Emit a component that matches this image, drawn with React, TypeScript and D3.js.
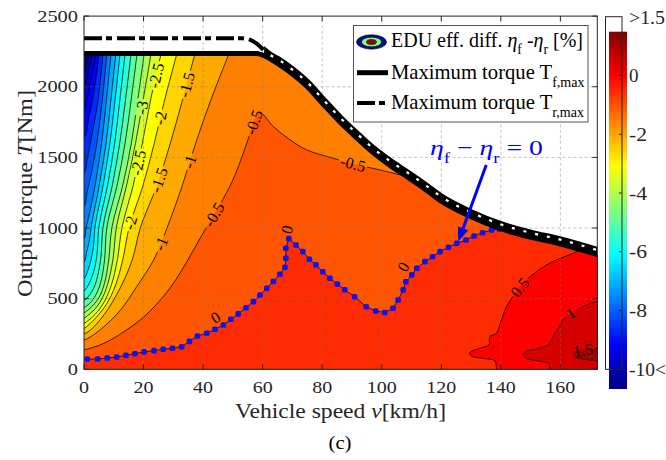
import { useEffect, useRef } from 'react';
import * as d3 from 'd3';

const W = 666;
const H = 460;
const SERIF = '"Liberation Serif", serif';

const speedTicks = [0, 20, 40, 60, 80, 100, 120, 140, 160];
const torqueTicks = [0, 500, 1000, 1500, 2000, 2500];
const colorTicks = [0, -2, -4, -6, -8];

// maximum torque curves [km/h], [Nm]
const fMaxSpeed = [0, 58, 61, 65, 70, 75, 80, 86, 92, 97, 103, 108, 115, 120, 130, 140, 150, 160, 172.5];
const fMaxTorque = [2235, 2235, 2215, 2165, 2090, 2000, 1885, 1750, 1630, 1535, 1440, 1370, 1268, 1190, 1080, 995, 935, 887, 812];
const rMaxSpeed = [0, 53, 56, 58, 60, 62, 65, 70, 75, 80, 86, 92, 97, 103, 108, 115, 120, 130, 140, 150, 160, 172.5];
const rMaxTorque = [2343, 2343, 2330, 2305, 2268, 2232, 2196, 2121, 2031, 1916, 1781, 1661, 1566, 1471, 1401, 1299, 1221, 1111, 1026, 966, 918, 843];

// iso-lines of eta_f - eta_r [%], points [speed, torque]
const leftLevels = [-9.5, -9, -8.5, -8, -7.5, -7, -6.5, -6, -5.5, -5, -4.5, -4, -3.5, -3, -2.5, -2, -1.5, -1];
const leftLines = [
  [[2.0, 2300], [1.7, 2235], [0.6, 2150], [0, 2110], [-2, 2095]],
  [[3.0, 2300], [2.7, 2235], [1.3, 2100], [0, 2000], [-2, 1985]],
  [[4.3, 2300], [4.0, 2235], [2.3, 2050], [0.8, 1900], [0, 1830], [-2, 1815]],
  [[5.3, 2300], [5.0, 2235], [3.6, 2000], [1.8, 1800], [0, 1640], [-2, 1625]],
  [[6.7, 2300], [6.4, 2235], [4.7, 1900], [3.0, 1700], [1.2, 1500], [0, 1390], [-2, 1375]],
  [[8.0, 2300], [7.7, 2235], [6.1, 1900], [4.3, 1600], [2.6, 1400], [1.0, 1250], [0, 1150], [-2, 1135]],
  [[9.4, 2300], [9.1, 2235], [7.5, 1900], [5.9, 1600], [3.7, 1300], [1.8, 1100], [0.7, 1000], [0, 920], [-2, 905]],
  [[11.0, 2300], [10.7, 2235], [9.0, 1900], [7.4, 1600], [5.1, 1300], [2.4, 1007], [1.9, 920], [1.0, 840], [0, 760], [-2, 745]],
  [[12.4, 2300], [12.1, 2235], [10.4, 1900], [8.7, 1600], [6.4, 1300], [3.7, 1007], [3.2, 870], [2.3, 770], [1.3, 700], [0, 640], [-2, 625]],
  [[14.1, 2300], [13.8, 2235], [12.0, 1900], [10.3, 1600], [7.9, 1300], [5.0, 1007], [4.4, 820], [3.5, 710], [2.4, 640], [1.3, 590], [0, 555], [-2, 545]],
  [[16.1, 2300], [15.8, 2235], [13.9, 1900], [12.0, 1600], [9.5, 1300], [6.4, 1007], [5.7, 800], [4.7, 670], [3.4, 580], [2.0, 530], [0.8, 500], [0, 488], [-2, 480]],
  [[18.1, 2300], [17.8, 2235], [15.8, 1900], [13.8, 1600], [11.1, 1300], [7.7, 1007], [6.9, 774], [5.8, 630], [4.3, 540], [2.5, 480], [1.0, 450], [0, 437], [-2, 430]],
  [[20.5, 2300], [20.2, 2235], [18.0, 1900], [15.9, 1600], [13.0, 1300], [9.4, 1007], [8.3, 774], [6.9, 610], [5.1, 510], [2.9, 450], [1.1, 415], [0, 400], [-2, 393]],
  [[22.9, 2300], [22.5, 2235], [19.8, 1900], [17.3, 1600], [14.3, 1300], [10.9, 1007], [9.7, 774], [7.9, 600], [5.8, 490], [3.4, 420], [1.2, 380], [0, 362], [-2, 355]],
  [[26.6, 2300], [25.9, 2235], [22.3, 1900], [19.6, 1600], [16.5, 1300], [12.8, 1007], [11.2, 774], [9.1, 590], [6.6, 470], [3.8, 390], [1.4, 345], [0, 325], [-2, 318]],
  [[32.0, 2300], [31.2, 2235], [27.0, 1900], [23.6, 1600], [19.8, 1300], [15.2, 1007], [13.0, 774], [10.5, 590], [7.5, 460], [4.2, 370], [1.6, 315], [0, 290], [-2, 283]],
  [[38.2, 2300], [37.3, 2235], [33.0, 1900], [29.0, 1600], [24.5, 1300], [19.0, 1007], [16.2, 774], [12.5, 590], [8.5, 440], [5.0, 340], [2.0, 275], [0, 250], [-2, 244]],
  [[49.9, 2300], [48.7, 2235], [42.5, 1900], [37.5, 1600], [33.0, 1300], [28.0, 1007], [23.4, 774], [17.7, 585], [12.3, 420], [6.7, 302], [2.3, 231], [0, 207], [-2, 203]],
];
const lineM05 = [[113.5, 1335], [108.4, 1364], [99.4, 1411], [90.4, 1454], [83.7, 1494], [74.8, 1553], [69.2, 1624], [63.6, 1718], [58.8, 1822], [57.0, 1745], [55.3, 1640], [53.0, 1500], [49.8, 1330], [45.5, 1160], [41.0, 1000], [37.2, 860], [34.5, 760], [30.8, 633], [26.6, 514], [20.2, 373], [13.4, 266], [6.7, 184], [0, 137], [-2, 133]];
const zeroLine = [[1.1, 73], [4.6, 73], [7.8, 80], [11.0, 87], [14.1, 99], [17.1, 110], [20.2, 123], [23.5, 132], [26.6, 142], [29.7, 149], [32.8, 160], [35.4, 198], [38.1, 236], [41.2, 255], [44.0, 283], [46.8, 314], [49.3, 354], [51.8, 392], [54.4, 436], [56.9, 479], [59.1, 526], [61.4, 574], [63.6, 621], [65.8, 673], [67.5, 722], [67.8, 786], [67.8, 857], [68.8, 925], [71.2, 880], [73.5, 833], [75.7, 779], [77.9, 739], [80.2, 691], [82.6, 644], [85.1, 603], [87.6, 562], [90.9, 514], [94.8, 443], [98.0, 413], [101.0, 401], [103.8, 432], [105.5, 491], [107.2, 562], [108.1, 620], [110.1, 668], [111.8, 715], [114.5, 762], [117.1, 797], [119.6, 833], [122.4, 864], [125.2, 892], [128.3, 915], [131.0, 944], [133.9, 967], [136.9, 987], [139.5, 994]];
const line05 = [[167.5, 880], [165.9, 840], [156.4, 751], [148.6, 632], [141.9, 443], [140.2, 349], [138.5, 255], [136.3, 231], [136.0, 172], [132.9, 149], [129.6, 118], [130.1, 94], [134.0, 78], [138.0, 61], [138.5, 20], [138.5, -50]];
const line10 = [[175, 470], [172.1, 479], [162.0, 373], [159.5, 300], [157.5, 231], [155.9, 172], [147.5, 113], [148.6, 78], [155.9, 42], [156.4, 10], [156.4, -50]];
const line15 = [[176, 150], [172.4, 149], [164.3, 113], [164.9, 89], [172.4, 61], [176, 60]];

// [text, level, speed, torque, fixed angle or null]
const contourLabels: [string, number, number, number, number | null][] = [
  ['-2.5', -2.5, 21.6, 2092, null],
  ['-1.5', -1.5, 31.9, 2028, null],
  ['-3', -3, 14.4, 1872, null],
  ['-2', -2, 21.8, 1801, null],
  ['-1', -1, 33.3, 1482, null],
  ['-2.5', -2.5, 13.1, 1482, null],
  ['-1.5', -1.5, 22.5, 1362, null],
  ['-2', -2, 12.4, 1058, null],
  ['-1', -1, 22.8, 916, null],
  ['-0.5', -0.5, 41, 1127, null],
  ['-0.5', -0.5, 54.1, 1773, null],
  ['-0.5', -0.5, 90.4, 1447, null],
  ['0', 0, 44.2, 367, -32],
  ['0', 0, 68.2, 990, -75],
  ['0', 0, 107.2, 725, -60],
  ['0.5', 0.5, 144.1, 619, null],
  ['1', 1, 162.6, 420, null],
  ['1.5', 1.5, 167, 208, null],
];

const arrowFrom = [135.1, 1446];
const arrowTo = [125.7, 904];

type Part = { t: string; i?: boolean; sub?: boolean };

function addText(parent: any, parts: Part[], o: any) {
  const size = o.size;
  const el = parent.append('text')
    .attr('font-family', SERIF)
    .attr('font-size', size)
    .attr('fill', o.fill || '#262626')
    .attr('text-anchor', o.anchor || 'start');
  if (o.rotate) el.attr('transform', `translate(${o.x},${o.y}) rotate(${o.rotate})`);
  else el.attr('x', o.x).attr('y', o.y);
  let down = false;
  parts.forEach((p) => {
    const ts = el.append('tspan').text(p.t);
    if (p.i) ts.attr('font-style', 'italic');
    if (p.sub) {
      ts.attr('font-size', size * 0.68);
      if (!down) { ts.attr('dy', size * 0.36); down = true; }
    } else if (down) {
      ts.attr('dy', -size * 0.36);
      down = false;
    }
  });
  if (o.width) el.attr('textLength', o.width).attr('lengthAdjust', 'spacingAndGlyphs');
  return el;
}

function snapToPath(node: SVGPathElement, tx: number, ty: number) {
  const len = node.getTotalLength();
  let best = 0;
  let bestD = Infinity;
  for (let s = 0; s <= len; s += 1) {
    const p = node.getPointAtLength(s);
    const d = (p.x - tx) ** 2 + (p.y - ty) ** 2;
    if (d < bestD) { bestD = d; best = s; }
  }
  const a = node.getPointAtLength(Math.max(0, best - 5));
  const b = node.getPointAtLength(Math.min(len, best + 5));
  let ang = (Math.atan2(b.y - a.y, b.x - a.x) * 180) / Math.PI;
  if (ang > 90) ang -= 180;
  if (ang < -90) ang += 180;
  const p = node.getPointAtLength(best);
  return { x: p.x, y: p.y, ang };
}

export default function App() {
  const svgRef = useRef<SVGSVGElement>(null);

  useEffect(() => {
    const svg = d3.select(svgRef.current);
    svg.selectAll('*').remove();

    const x = d3.scaleLinear().domain([0, 172.4]).range([84, 597.3]);
    const y = d3.scaleLinear().domain([0, 2500]).range([369.3, 16.1]);
    const jet = d3.scaleLinear<string>()
      .domain([-10, -8.5, -5.5, -2.5, 0.5, 2])
      .range(['#000080', '#0000ff', '#00ffff', '#ffff00', '#ff0000', '#800000'])
      .clamp(true);

    const x0 = x(0), x1 = x(172.4), y0 = y(0), y1 = y(2500);

    svg.append('rect').attr('width', W).attr('height', H).attr('fill', '#fff');

    const defs = svg.append('defs');
    const fPts = fMaxSpeed.map((v, i) => [v, fMaxTorque[i]]);
    const rPts = rMaxSpeed.map((v, i) => [v, rMaxTorque[i]]);
    const envArea = d3.area<number[]>()
      .x((d) => x(d[0]))
      .y0(y0)
      .y1((d) => y(d[1]))
      .curve(d3.curveMonotoneX);
    defs.append('clipPath').attr('id', 'env').append('path').attr('d', envArea(fPts));
    defs.append('clipPath').attr('id', 'plotc').append('rect')
      .attr('x', x0).attr('y', y1).attr('width', x1 - x0).attr('height', y0 - y1);
    defs.append('clipPath').attr('id', 'decl').append('rect')
      .attr('x', x(60.5)).attr('y', y1).attr('width', x1 - x(60.5)).attr('height', y0 - y1);
    const mask = defs.append('mask').attr('id', 'lblmask')
      .attr('maskUnits', 'userSpaceOnUse').attr('x', 0).attr('y', 0).attr('width', W).attr('height', H);
    mask.append('rect').attr('width', W).attr('height', H).attr('fill', '#fff');

    const smooth = d3.line<number[]>().x((d) => x(d[0])).y((d) => y(d[1])).curve(d3.curveCatmullRom.alpha(0.5));
    const straight = d3.line<number[]>().x((d) => x(d[0])).y((d) => y(d[1]));
    const tail = (pts: number[][]) => pts.map((p) => `L${x(p[0])},${y(p[1])}`).join('') + 'Z';

    const zeroExt = [[-2, 72], ...zeroLine, [142.5, 1050]];

    const regions: { level: number; pts: number[][]; close: number[][]; lin?: boolean }[] = [];
    leftLevels.forEach((lv, i) => {
      const pts = leftLines[i];
      const f = pts[0];
      const l = pts[pts.length - 1];
      regions.push({ level: lv, pts, close: [[-5, l[1]], [-5, -100], [200, -100], [200, 2600], [f[0], 2600]] });
    });
    regions.push({ level: -0.5, pts: lineM05, close: [[-5, 133], [-5, -100], [200, -100], [200, 1335]] });
    regions.push({ level: 0, pts: zeroExt, close: [[200, 1050], [200, -100], [-5, -100], [-5, 72]], lin: true });
    regions.push({ level: 0.5, pts: line05, close: [[200, -50], [200, 880]] });
    regions.push({ level: 1, pts: line10, close: [[200, -50], [200, 470]] });
    regions.push({ level: 1.5, pts: line15, close: [] });

    // filled contour bands
    const cg = svg.append('g').attr('clip-path', 'url(#env)');
    cg.append('rect').attr('x', x0).attr('y', y1).attr('width', x1 - x0).attr('height', y0 - y1).attr('fill', jet(-10));
    regions.forEach((r) => {
      const d = (r.lin ? straight(r.pts) : smooth(r.pts)) + tail(r.close);
      cg.append('path').attr('d', d).attr('fill', jet(r.level)).attr('stroke', jet(r.level)).attr('stroke-width', 0.3);
    });

    // contour lines
    const lg = cg.append('g').attr('mask', 'url(#lblmask)');
    const pathByLevel = new Map<number, SVGPathElement>();
    regions.forEach((r) => {
      const p = lg.append('path')
        .attr('d', r.lin ? straight(r.pts) : smooth(r.pts))
        .attr('fill', 'none')
        .attr('stroke', '#000')
        .attr('stroke-width', 0.75);
      pathByLevel.set(r.level, p.node() as SVGPathElement);
    });

    // grid
    const grid = svg.append('g').attr('stroke', '#7a7a7a').attr('stroke-opacity', 0.55)
      .attr('stroke-width', 0.8).attr('stroke-dasharray', '3,2.5');
    speedTicks.filter((v) => v > 0).forEach((v) => {
      grid.append('line').attr('x1', x(v)).attr('x2', x(v)).attr('y1', y0).attr('y2', y1);
    });
    torqueTicks.filter((t) => t > 0 && t < 2500).forEach((t) => {
      grid.append('line').attr('x1', x0).attr('x2', x1).attr('y1', y(t)).attr('y2', y(t));
    });

    // contour labels
    const labG = svg.append('g');
    contourLabels.forEach(([text, lv, v, T, fixed]) => {
      let px = x(v);
      let py = y(T);
      let ang = fixed ?? 0;
      if (fixed === null) {
        const s = snapToPath(pathByLevel.get(lv) as SVGPathElement, px, py);
        px = s.x; py = s.y; ang = s.ang;
      }
      const t = labG.append('text')
        .attr('transform', `translate(${px},${py}) rotate(${ang})`)
        .attr('text-anchor', 'middle')
        .attr('dy', '0.34em')
        .attr('font-family', SERIF)
        .attr('font-size', 16)
        .attr('fill', '#000')
        .text(text);
      const w = (t.node() as SVGTextElement).getBBox().width + 4;
      mask.append('rect')
        .attr('x', -w / 2).attr('y', -6).attr('width', w).attr('height', 12)
        .attr('fill', '#000')
        .attr('transform', `translate(${px},${py}) rotate(${ang})`);
    });

    // zero line markers
    const mg = svg.append('g');
    zeroLine.forEach((p) => {
      mg.append('rect')
        .attr('x', x(p[0]) - 2.8).attr('y', y(p[1]) - 2.8)
        .attr('width', 5.6).attr('height', 5.6).attr('rx', 1.6)
        .attr('fill', '#0a14f5');
    });

    // maximum torque curves
    const tline = d3.line<number[]>().x((d) => x(d[0])).y((d) => y(d[1])).curve(d3.curveMonotoneX);
    const tg = svg.append('g').attr('clip-path', 'url(#plotc)');
    tg.append('path').attr('d', tline(fPts)).attr('fill', 'none').attr('stroke', '#000').attr('stroke-width', 5);
    tg.append('path').attr('d', tline(rPts)).attr('fill', 'none').attr('stroke', '#000').attr('stroke-width', 4)
      .attr('stroke-dasharray', '18,4,6,5');
    const dg = svg.append('g').attr('clip-path', 'url(#decl)');
    dg.append('path').attr('d', tline(rPts)).attr('fill', 'none').attr('stroke', '#000').attr('stroke-width', 6.5);
    dg.append('path').attr('d', tline(rPts)).attr('fill', 'none').attr('stroke', '#fff').attr('stroke-width', 2.2)
      .attr('stroke-dasharray', '3,9');

    // axes box and ticks
    const ax = svg.append('g').attr('stroke', '#262626').attr('stroke-width', 1).attr('fill', 'none');
    ax.append('rect').attr('x', x0).attr('y', y1).attr('width', x1 - x0).attr('height', y0 - y1);
    speedTicks.forEach((v) => {
      ax.append('line').attr('x1', x(v)).attr('x2', x(v)).attr('y1', y0).attr('y2', y0 - 5);
      ax.append('line').attr('x1', x(v)).attr('x2', x(v)).attr('y1', y1).attr('y2', y1 + 5);
    });
    torqueTicks.forEach((t) => {
      ax.append('line').attr('x1', x0).attr('x2', x0 + 5).attr('y1', y(t)).attr('y2', y(t));
      ax.append('line').attr('x1', x1).attr('x2', x1 - 5).attr('y1', y(t)).attr('y2', y(t));
    });
    speedTicks.forEach((v) => {
      const s = String(v);
      addText(svg, [{ t: s }], { x: x(v), y: 393, size: 17, anchor: 'middle', width: s.length * 10 });
    });
    torqueTicks.forEach((t) => {
      const s = String(t);
      addText(svg, [{ t: s }], { x: 78, y: y(t) + 5.6, size: 17, anchor: 'end', width: s.length * 10.2 });
    });
    addText(svg, [{ t: 'Vehicle speed ' }, { t: 'v', i: true }, { t: '[km/h]' }],
      { x: 340.5, y: 418, size: 21, anchor: 'middle', width: 211 });
    addText(svg, [{ t: 'Output torque ' }, { t: 'T', i: true }, { t: '[Nm]' }],
      { x: 32, y: 193.5, size: 21, anchor: 'middle', width: 207, rotate: -90 });
    addText(svg, [{ t: '(c)' }], { x: 340, y: 449, size: 19, anchor: 'middle', width: 23, fill: '#000' });

    // annotation
    addText(svg, [{ t: 'η', i: true }, { t: 'f', sub: true }, { t: ' − ' }, { t: 'η', i: true }, { t: 'r', sub: true }, { t: ' = 0' }],
      { x: 430, y: 155, size: 22, fill: '#0000ff', width: 113 });
    const ax0 = x(arrowFrom[0]), ay0 = y(arrowFrom[1]), ax1 = x(arrowTo[0]), ay1 = y(arrowTo[1]);
    const aang = Math.atan2(ay1 - ay0, ax1 - ax0);
    const hl = 14, hw = 5.5;
    const bx = ax1 - hl * Math.cos(aang), by = ay1 - hl * Math.sin(aang);
    svg.append('line').attr('x1', ax0).attr('y1', ay0).attr('x2', bx).attr('y2', by)
      .attr('stroke', '#0000ff').attr('stroke-width', 3);
    svg.append('path')
      .attr('d', `M${ax1},${ay1}L${bx + hw * Math.sin(aang)},${by - hw * Math.cos(aang)}L${bx - hw * Math.sin(aang)},${by + hw * Math.cos(aang)}Z`)
      .attr('fill', '#0000ff');

    // legend
    const lgd = svg.append('g');
    lgd.append('rect').attr('x', 353.5).attr('y', 25.5).attr('width', 234.5).attr('height', 96.5)
      .attr('fill', '#fff').attr('stroke', '#404040').attr('stroke-width', 0.9);
    lgd.append('ellipse').attr('cx', 371.5).attr('cy', 42).attr('rx', 15).attr('ry', 7.2)
      .attr('fill', '#00108a').attr('stroke', '#000').attr('stroke-width', 0.6);
    lgd.append('ellipse').attr('cx', 371.5).attr('cy', 42).attr('rx', 10).attr('ry', 4.8)
      .attr('fill', '#7dff7a').attr('stroke', '#000').attr('stroke-width', 0.6);
    lgd.append('ellipse').attr('cx', 371.5).attr('cy', 42).attr('rx', 5).attr('ry', 2.5)
      .attr('fill', '#a00000').attr('stroke', '#000').attr('stroke-width', 0.6);
    addText(lgd, [{ t: 'EDU eff. diff. ' }, { t: 'η', i: true }, { t: 'f', sub: true }, { t: ' -' }, { t: 'η', i: true }, { t: 'r', sub: true }, { t: ' [%]' }],
      { x: 391, y: 46.5, size: 20, fill: '#000', width: 192 });
    lgd.append('line').attr('x1', 357).attr('x2', 388).attr('y1', 72.7).attr('y2', 72.7)
      .attr('stroke', '#000').attr('stroke-width', 5);
    addText(lgd, [{ t: 'Maximum torque T' }, { t: 'f,max', sub: true }],
      { x: 391, y: 79.3, size: 21, fill: '#000', width: 193.5 });
    lgd.append('line').attr('x1', 357).attr('x2', 388).attr('y1', 103).attr('y2', 103)
      .attr('stroke', '#000').attr('stroke-width', 4).attr('stroke-dasharray', '18,4,6,5');
    addText(lgd, [{ t: 'Maximum torque T' }, { t: 'r,max', sub: true }],
      { x: 391, y: 109.3, size: 21, fill: '#000', width: 193 });

    // colour bar
    const cb = d3.scaleLinear().domain([2, -10]).range([16.7, 369.3]);
    const grad = defs.append('linearGradient').attr('id', 'cbgrad').attr('x1', 0).attr('x2', 0).attr('y1', 0).attr('y2', 1);
    jet.domain().slice().reverse().forEach((v) => {
      grad.append('stop').attr('offset', `${((2 - v) / 12) * 100}%`).attr('stop-color', jet(v));
    });
    svg.append('rect').attr('x', 609).attr('y', 31.7).attr('width', 18).attr('height', 357.3).attr('fill', 'url(#cbgrad)');
    svg.append('rect').attr('x', 605.5).attr('y', cb(2)).attr('width', 16.5).attr('height', cb(-10) - cb(2))
      .attr('fill', 'none').attr('stroke', '#262626').attr('stroke-width', 1);
    colorTicks.forEach((v) => {
      svg.append('line').attr('x1', 619).attr('x2', 622).attr('y1', cb(v)).attr('y2', cb(v))
        .attr('stroke', '#262626').attr('stroke-width', 1);
      const s = String(v);
      addText(svg, [{ t: s }], { x: 629, y: cb(v) + 6.5, size: 19, width: s.length === 1 ? 9.5 : 18 });
    });
    addText(svg, [{ t: '>1.5' }], { x: 629, y: cb(2) + 7.5, size: 19, width: 36 });
    addText(svg, [{ t: '-10<' }], { x: 629, y: cb(-10) + 6.5, size: 19, width: 37 });
  }, []);

  return (
    <svg ref={svgRef} width={W} height={H} style={{ position: 'absolute', left: 0, top: 0 }} />
  );
}
